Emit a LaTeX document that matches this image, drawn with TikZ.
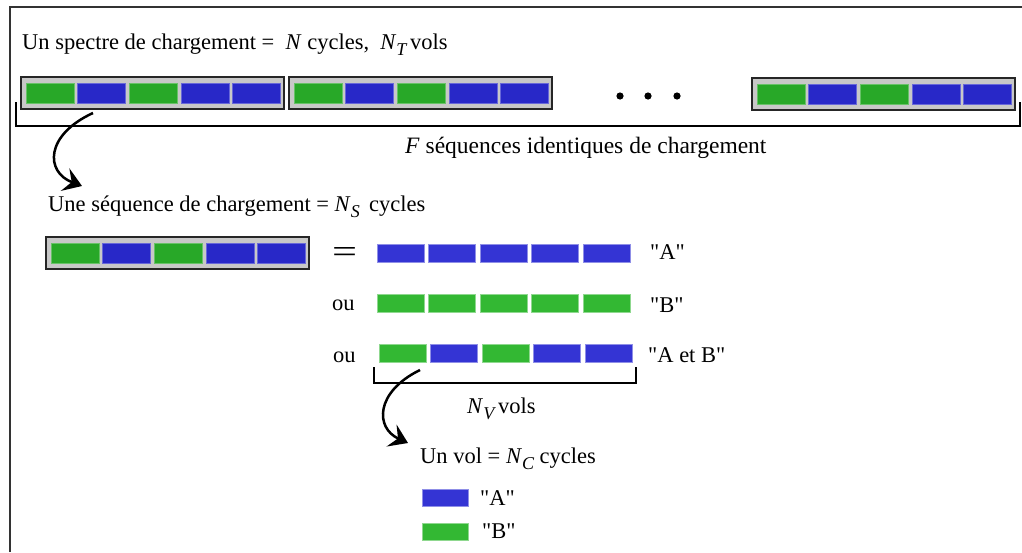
\documentclass[tikz,border=0pt]{standalone}
\usepackage{fontspec}
\setmainfont{Liberation Serif}[Ligatures=TeXOff]
\usetikzlibrary{arrows.meta}
\definecolor{sgreen}{HTML}{28A828}
\definecolor{sblue}{HTML}{2828C8}
\definecolor{rgreen}{HTML}{33B833}
\definecolor{rblue}{HTML}{3434D4}
\definecolor{sgray}{HTML}{C8C8C8}
\newcommand\mysb[1]{\raisebox{-0.3em}{\fontsize{18}{18}\selectfont\itshape #1}}
\tikzset{
  txt/.style={anchor=base west, inner sep=0pt, font=\fontsize{22.5}{26}\selectfont},
  stripbox/.style={draw=black!85, line width=1.2pt, fill=sgray},
  sblk/.style={fill=#1, draw=#1!70!white, line width=0.6pt},
  rblk/.style={fill=#1, draw=#1!55!white, line width=0.8pt},
  brack/.style={line width=2pt},
  curvarrow/.style={line width=2.5pt, -{Stealth[length=18pt,width=24pt,inset=7pt]}},
}
\newcommand\mystrip[3]{%
  \draw[stripbox] (#1,#2) rectangle ++(263,32);
  \foreach \c [count=\i from 0] in {#3}{
    \draw[sblk=s\c] ({#1+5+\i*51.6},{#2+6}) rectangle ++(48,20);
  }}
\newcommand\myrow[3]{%
  \foreach \c [count=\i from 0] in {#3}{
    \draw[rblk=r\c] ({#1+\i*51.5},#2) rectangle ++(47,18);
  }}
\begin{document}
\begin{tikzpicture}[x=1pt,y=-1pt]
\useasboundingbox (0,0) rectangle (1022,552);
\draw[line width=1.5pt, black!80] (10,552) -- (10,7) -- (1022,7);

\node[txt] (t1) at (22,49) {Un spectre de chargement = \ \textit{N} cycles, \ \textit{N}\mysb{T}\,vols};

\mystrip{21}{77}{green,blue,green,blue,blue}
\mystrip{289}{77}{green,blue,green,blue,blue}
\mystrip{752}{78}{green,blue,green,blue,blue}
\foreach \x in {620,648,677} \fill (\x,96) circle (3.6);

\draw[brack] (16,102) -- (16,126) -- (1020,126) -- (1020,102);
\node[txt, font=\fontsize{23.5}{26}\selectfont] (t2) at (405,153) {\textit{F} séquences identiques de chargement};

\coordinate (a1s) at (93,113);
\coordinate (a1e) at (82,186);
\draw[curvarrow] (a1s) .. controls (45,135) and (45,172) .. (a1e);

\node[txt] (t3) at (48,211) {Une séquence de chargement = \textit{N}\mysb{S}\, cycles};

\mystrip{46}{237}{green,blue,green,blue,blue}
\node[inner sep=0pt] (eq) at (344.5,255) {\resizebox{25pt}{15pt}{=}};

\myrow{377}{244}{blue,blue,blue,blue,blue}
\node[txt] (lA) at (650,259) {"A"};
\node[txt] (ou1) at (332,310) {ou};
\myrow{377}{294}{green,green,green,green,green}
\node[txt] (lB) at (650,312) {"B"};
\node[txt] (ou2) at (333,362) {ou};
\myrow{379}{344}{green,blue,green,blue,blue}
\node[txt] (lAB) at (648,362) {"A et B"};

\draw[brack] (374,367) -- (374,383) -- (636,383) -- (636,367);
\node[txt] (t4) at (467,413) {\textit{N}\mysb{V}\,vols};

\coordinate (a2s) at (420,370);
\coordinate (a2e) at (408,443);
\draw[curvarrow] (a2s) .. controls (375,392) and (375,428) .. (a2e);

\node[txt] (t5) at (420,463) {Un vol = \textit{N}\mysb{C} cycles};
\draw[rblk=rblue] (422,489) rectangle ++(46,17);
\node[txt] (lgA) at (480,505) {"A"};
\draw[rblk=rgreen] (422,523) rectangle ++(46,17);
\node[txt] (lgB) at (482,538) {"B"};
\end{tikzpicture}
\end{document}
